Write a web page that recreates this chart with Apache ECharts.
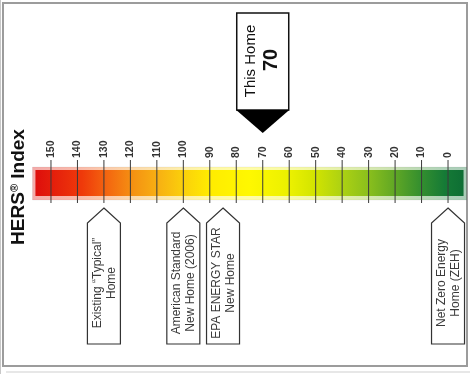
<!DOCTYPE html>
<html>
<head>
<meta charset="utf-8">
<script src="https://cdn.jsdelivr.net/npm/echarts@6/dist/echarts.min.js"></script>
<style>
  html, body { margin: 0; padding: 0; background: #fff; }
  #chart { width: 470px; height: 374px; }
</style>
</head>
<body>
<div id="chart"></div>
<script>
// HERS index scale, runs from 150 (left) down to 0 (right)
const tickValues = [150, 140, 130, 120, 110, 100, 90, 80, 70, 60, 50, 40, 30, 20, 10, 0]
const scaleRange = [157, -7] // ends of the colour band, in index points
const markerNames = [
  'Existing “Typical”\nHome',
  'American Standard\nNew Home (2006)',
  'EPA ENERGY STAR\nNew Home',
  'Net Zero Energy\nHome (ZEH)'
]
const markerValues = [130, 100, 85, 0]
const homeLabel = 'This Home'
const homeScore = 70
const axisTitle = ['HERS', '®', ' Index']

const font = '"Liberation Sans", Arial, sans-serif'

// colours along the band, left (red) to right (green)
const bandStops = [
  [0.0, '#DE0E0C'],
  [0.11, '#EF3A0A'],
  [0.17, '#F46810'],
  [0.232, '#F59412'],
  [0.294, '#F8B412'],
  [0.349, '#FBD20A'],
  [0.409, '#FFEC00'],
  [0.5, '#FFF800'],
  [0.598, '#EAF000'],
  [0.653, '#D2E400'],
  [0.713, '#AED212'],
  [0.775, '#8CC01C'],
  [0.837, '#62A824'],
  [0.897, '#36902E'],
  [0.956, '#157A36'],
  [1.0, '#0E6E34']
]
const gradient = () =>
  new echarts.graphic.LinearGradient(
    0, 0, 1, 0,
    bandStops.map(([offset, color]) => ({ offset, color }))
  )

const chart = echarts.init(document.getElementById('chart'))

const option = {
  backgroundColor: '#fff',
  animation: false,
  grid: { left: 24.5, width: 450, top: 160, height: 43, outerBoundsMode: 'none', containLabel: false },
  xAxis: {
    type: 'value',
    min: -10,
    max: 160,
    interval: 10,
    inverse: true,
    position: 'top',
    axisLine: { show: false },
    axisTick: { show: false },
    splitLine: { show: false },
    axisLabel: {
      rotate: 90,
      margin: 2,
      showMinLabel: false,
      showMaxLabel: false,
      formatter: (v) => (tickValues.includes(v) ? String(v) : ''),
      color: '#333',
      fontSize: 10.5,
      fontWeight: 'bold',
      fontFamily: font
    }
  },
  yAxis: { type: 'value', min: 0, max: 1, show: false },
  graphic: [
    // frame
    { type: 'rect', shape: { x: 3, y: 3, width: 464, height: 363 }, style: { fill: 'none', stroke: '#9c9c9c', lineWidth: 2 } },
    { type: 'line', shape: { x1: 6, y1: 372, x2: 470, y2: 372 }, style: { stroke: '#cfcfcf', lineWidth: 1 } },
    { type: 'line', shape: { x1: 0.5, y1: 0, x2: 0.5, y2: 374 }, style: { stroke: '#c8c8c8', lineWidth: 1 } },
    {
      type: 'text',
      x: 19,
      y: 187,
      rotation: Math.PI / 2,
      style: {
        text: '{a|' + axisTitle[0] + '}{b|' + axisTitle[1] + '}{a|' + axisTitle[2] + '}',
        align: 'center',
        verticalAlign: 'middle',
        rich: {
          a: { font: 'bold 19px ' + font, fill: '#111' },
          b: { font: 'bold 11px ' + font, fill: '#111', verticalAlign: 'top', padding: [0, 0, 7, 0] }
        }
      }
    }
  ],
  series: [
    {
      name: 'band',
      type: 'custom',
      z: 2,
      clip: false,
      data: [scaleRange],
      renderItem: (params, api) => {
        const cs = params.coordSys
        const x0 = api.coord([api.value(0), 0])[0]
        const x1 = api.coord([api.value(1), 0])[0]
        const top = cs.y + 7
        return {
          type: 'group',
          children: [
            {
              type: 'rect',
              shape: { x: x0, y: top, width: x1 - x0, height: 33 },
              style: { fill: gradient(), opacity: 0.35, stroke: 'rgba(0,0,0,0.15)', lineWidth: 1 }
            },
            {
              type: 'rect',
              shape: { x: x0 + 3, y: top + 3, width: x1 - x0 - 6, height: 26 },
              style: { fill: gradient() }
            }
          ]
        }
      }
    },
    {
      name: 'ticks',
      type: 'custom',
      z: 3,
      clip: false,
      data: tickValues.map((v) => [v]),
      renderItem: (params, api) => {
        const cs = params.coordSys
        const x = api.coord([api.value(0), 0])[0]
        return {
          type: 'line',
          shape: { x1: x, y1: cs.y, x2: x, y2: cs.y + cs.height },
          style: { stroke: '#3a3a3a', lineWidth: 1 }
        }
      }
    },
    {
      name: 'markers',
      type: 'custom',
      z: 4,
      clip: false,
      data: markerValues.map((v) => [v]),
      renderItem: (params, api) => {
        const cs = params.coordSys
        const x = api.coord([api.value(0), 0])[0]
        const apex = cs.y + cs.height + 5
        const w = 16.5
        return {
          type: 'group',
          children: [
            {
              type: 'polygon',
              shape: {
                points: [
                  [x, apex], [x + w, apex + 15], [x + w, 344],
                  [x - w, 344], [x - w, apex + 15]
                ]
              },
              style: { fill: '#fff', stroke: '#333', lineWidth: 1.2 }
            },
            {
              type: 'text',
              x: x + 0.5,
              y: 283,
              rotation: Math.PI / 2,
              style: {
                text: markerNames[params.dataIndex],
                font: '12px ' + font,
                fill: '#3a3a3a',
                align: 'center',
                verticalAlign: 'middle',
                lineHeight: 14
              }
            }
          ]
        }
      }
    },
    {
      name: 'home',
      type: 'custom',
      z: 5,
      clip: false,
      data: [[homeScore]],
      renderItem: (params, api) => {
        const x = api.coord([api.value(0), 0])[0]
        return {
          type: 'group',
          children: [
            {
              type: 'rect',
              shape: { x: x - 26, y: 13, width: 52, height: 97 },
              style: { fill: '#fff', stroke: '#111', lineWidth: 1.5 }
            },
            {
              type: 'polygon',
              shape: { points: [[x - 26.5, 110], [x + 26.5, 110], [x, 133]] },
              style: { fill: '#000' }
            },
            {
              type: 'text',
              x: x - 12,
              y: 61,
              rotation: Math.PI / 2,
              style: { text: homeLabel, font: '15px ' + font, fill: '#111', align: 'center', verticalAlign: 'middle' }
            },
            {
              type: 'text',
              x: x + 9,
              y: 60,
              rotation: Math.PI / 2,
              style: { text: String(homeScore), font: 'bold 20px ' + font, fill: '#111', align: 'center', verticalAlign: 'middle' }
            }
          ]
        }
      }
    }
  ]
}

chart.setOption(option)
window.addEventListener('resize', () => chart.resize())
</script>
</body>
</html>
